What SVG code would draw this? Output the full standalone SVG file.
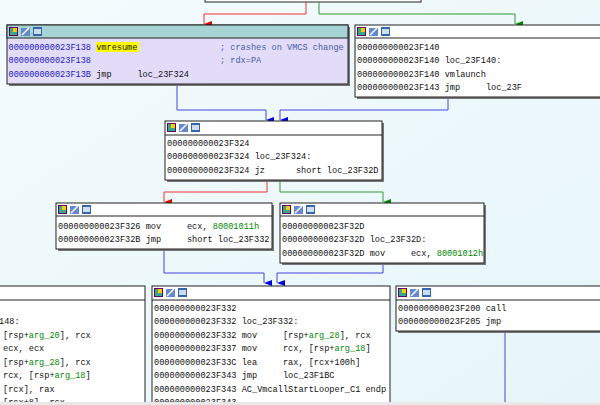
<svg xmlns="http://www.w3.org/2000/svg" width="600" height="405" viewBox="0 0 600 405">
<defs>
<linearGradient id="bg" x1="0" y1="0" x2="1" y2="1"><stop offset="0" stop-color="#f4fbfd"/><stop offset="1" stop-color="#e6f5f9"/></linearGradient>
<marker id="ar" markerWidth="6" markerHeight="8" refX="3" refY="8" orient="auto" markerUnits="userSpaceOnUse"><path d="M0,0 L6,0 L3,8 Z" fill="#d00"/></marker>
<marker id="ag" markerWidth="6" markerHeight="8" refX="3" refY="8" orient="auto" markerUnits="userSpaceOnUse"><path d="M0,0 L6,0 L3,8 Z" fill="#080"/></marker>
<marker id="ab" markerWidth="6" markerHeight="8" refX="3" refY="8" orient="auto" markerUnits="userSpaceOnUse"><path d="M0,0 L6,0 L3,8 Z" fill="#00d"/></marker>
<g id="icons">
<rect x="0" y="0" width="9" height="9" fill="#606"/><rect x="1" y="1" width="7" height="7" fill="#3a8"/><rect x="4" y="1" width="4" height="4" fill="#fc0"/>
<rect x="12" y="1" width="9" height="8" fill="#68c"/><path d="M13,8 L20,1" stroke="#fff" stroke-width="1.5"/>
<rect x="24" y="0" width="9" height="9" fill="#36a"/><rect x="25" y="2" width="7" height="5" fill="#cde"/>
</g>
</defs>
<style>
.box{fill:#fff;stroke:#222;stroke-width:1}
.sh{fill:#777}
.hd{fill:#fff;stroke:#222;stroke-width:1}
text{font-family:"Liberation Mono","DejaVu Sans Mono",monospace;font-size:8.6px;fill:#111}
.a{fill:#2222bb}.g{fill:#080}.c{fill:#4860a0}
.e{fill:none;stroke-width:1}
</style>
<rect width="600" height="405" fill="url(#bg)"/>
<g id="connectors">
<rect x="205" y="-2" width="216" height="4" fill="#fff" stroke="#222"/>
<path class="e" stroke="#e33" d="M306,2 V14 H204 V24" marker-end="url(#ar)"/>
<path class="e" stroke="#393" d="M319,2 V14 H515 V24" marker-end="url(#ag)"/>
<path class="e" stroke="#44d" d="M177,84 V110 H266 V120" marker-end="url(#ab)"/>
<path class="e" stroke="#44d" d="M448,97 V110 H280 V120" marker-end="url(#ab)"/>
<path class="e" stroke="#e33" d="M267,180 V192 H164 V202" marker-end="url(#ar)"/>
<path class="e" stroke="#393" d="M280,180 V192 H383 V202" marker-end="url(#ag)"/>
<path class="e" stroke="#44d" d="M164,249 V273 H264 V283" marker-end="url(#ab)"/>
<path class="e" stroke="#44d" d="M383,263 V273 H277 V283" marker-end="url(#ab)"/>
<path class="e" stroke="#44d" d="M505,331 V405"/>
</g>
<g id="nodeA">
<rect class="sh" x="9" y="27" width="341" height="59"/>
<rect x="7" y="25" width="341" height="59" fill="#e2dcf8" stroke="#222"/>
<rect x="7" y="25" width="341" height="13" fill="#a6d3d3" stroke="#222"/>
<use href="#icons" x="9" y="27"/>
<rect x="96" y="42" width="43" height="10" fill="#ff0"/>
<text x="8.5" y="50" xml:space="preserve"><tspan class="a">000000000023F138</tspan> vmresume                <tspan class="c">; crashes on VMCS change</tspan></text>
<text x="8.5" y="63" xml:space="preserve"><tspan class="a">000000000023F138</tspan>                         <tspan class="c">; rdx=PA</tspan></text>
<text x="8.5" y="77" xml:space="preserve"><tspan class="a">000000000023F13B</tspan> jmp     loc_23F324</text>
</g>
<g id="nodeB">
<rect class="sh" x="357" y="27" width="250" height="72"/>
<rect class="box" x="355" y="25" width="250" height="72"/>
<line x1="355" y1="38" x2="605" y2="38" stroke="#222"/>
<use href="#icons" x="357" y="27"/>
<text x="357" y="50" xml:space="preserve">000000000023F140</text>
<text x="357" y="63" xml:space="preserve">000000000023F140 loc_23F140:</text>
<text x="357" y="77" xml:space="preserve">000000000023F140 vmlaunch</text>
<text x="357" y="90" xml:space="preserve">000000000023F143 jmp     loc_23F</text>
</g>
<g id="nodeC">
<rect class="sh" x="167" y="123" width="217" height="59"/>
<rect class="box" x="165" y="121" width="217" height="59"/>
<line x1="165" y1="135" x2="382" y2="135" stroke="#222"/>
<use href="#icons" x="167" y="123"/>
<text x="167" y="146" xml:space="preserve">000000000023F324</text>
<text x="167" y="159" xml:space="preserve">000000000023F324 loc_23F324:</text>
<text x="167" y="173" xml:space="preserve">000000000023F324 jz      short loc_23F32D</text>
</g>
<g id="nodeD">
<rect class="sh" x="58" y="205" width="216" height="46"/>
<rect class="box" x="56" y="203" width="216" height="46"/>
<line x1="56" y1="216" x2="272" y2="216" stroke="#222"/>
<use href="#icons" x="58" y="205"/>
<text x="58" y="229" xml:space="preserve">000000000023F326 mov     ecx, <tspan class="g">80001011h</tspan></text>
<text x="58" y="242" xml:space="preserve">000000000023F32B jmp     short loc_23F332</text>
</g>
<g id="nodeE">
<rect class="sh" x="282" y="205" width="204" height="60"/>
<rect class="box" x="280" y="203" width="204" height="60"/>
<line x1="280" y1="216" x2="484" y2="216" stroke="#222"/>
<use href="#icons" x="282" y="205"/>
<text x="282" y="229" xml:space="preserve">000000000023F32D</text>
<text x="282" y="242" xml:space="preserve">000000000023F32D loc_23F32D:</text>
<text x="282" y="256" xml:space="preserve">000000000023F32D mov     ecx, <tspan class="g">80001012h</tspan></text>
</g>
<g id="nodeG">
<rect class="box" x="-2" y="286" width="147" height="125"/>
<line x1="-2" y1="300" x2="145" y2="300" stroke="#222"/>
<text x="-1" y="324" xml:space="preserve">148:</text>
<text x="3" y="338" xml:space="preserve">[rsp+<tspan class="g">arg_20</tspan>], rcx</text>
<text x="3" y="351" xml:space="preserve">ecx, ecx</text>
<text x="3" y="365" xml:space="preserve">[rsp+<tspan class="g">arg_28</tspan>], rcx</text>
<text x="3" y="378" xml:space="preserve">rcx, [rsp+<tspan class="g">arg_18</tspan>]</text>
<text x="3" y="392" xml:space="preserve">[rcx], rax</text>
<text x="3" y="405" xml:space="preserve">[rcx+8], rcx</text>
</g>
<g id="nodeF">
<rect class="box" x="152" y="286" width="238" height="125"/>
<line x1="152" y1="300" x2="390" y2="300" stroke="#222"/>
<use href="#icons" x="154" y="288"/>
<text x="154" y="311" xml:space="preserve">000000000023F332</text>
<text x="154" y="324" xml:space="preserve">000000000023F332 loc_23F332:</text>
<text x="154" y="338" xml:space="preserve">000000000023F332 mov     [rsp+<tspan class="g">arg_28</tspan>], rcx</text>
<text x="154" y="351" xml:space="preserve">000000000023F337 mov     rcx, [rsp+<tspan class="g">arg_18</tspan>]</text>
<text x="154" y="365" xml:space="preserve">000000000023F33C lea     rax, [rcx+100h]</text>
<text x="154" y="378" xml:space="preserve">000000000023F343 jmp     loc_23F1BC</text>
<text x="154" y="392" xml:space="preserve">000000000023F343 AC_VmcallStartLooper_C1 endp</text>
<text x="154" y="405" xml:space="preserve">000000000023F343</text>
</g>
<g id="nodeH">
<rect class="sh" x="398" y="288" width="210" height="45"/>
<rect class="box" x="396" y="286" width="210" height="45"/>
<line x1="396" y1="300" x2="606" y2="300" stroke="#222"/>
<use href="#icons" x="398" y="288"/>
<text x="398" y="311" xml:space="preserve">000000000023F200 call</text>
<text x="398" y="324" xml:space="preserve">000000000023F205 jmp</text>
</g>
<rect x="0" y="402" width="600" height="3" fill="#e8e8e8"/>
</svg>
